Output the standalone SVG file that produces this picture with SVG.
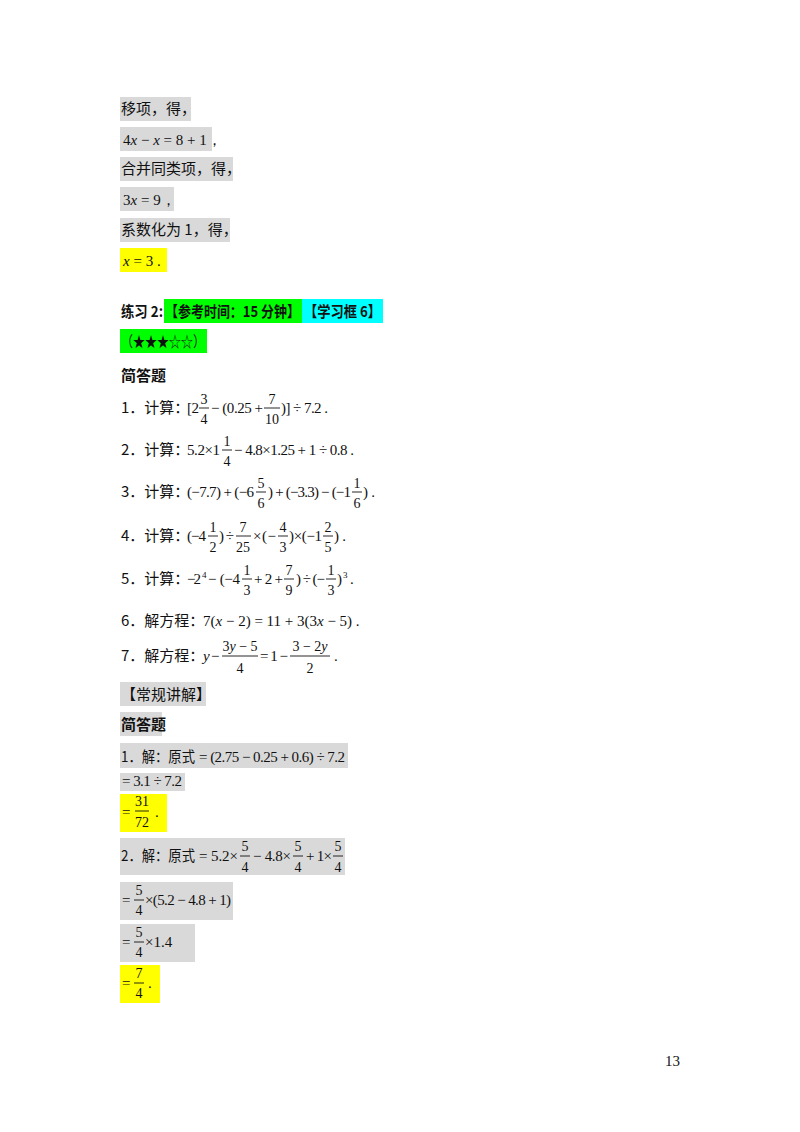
<svg xmlns="http://www.w3.org/2000/svg" width="800" height="1132" viewBox="0 0 800 1132">
<style>
.g{fill:#d9d9d9}.y{fill:#ffff00}.gr{fill:#00ff00}.c{fill:#00ffff}
text{font-family:"Liberation Serif","Noto Sans CJK SC",serif;font-size:15px;fill:#111}
.z{font-family:"Noto Sans CJK SC","Noto Sans",sans-serif;font-size:15px}
.b{font-weight:bold}
.m{font-family:"Liberation Serif",serif;font-size:15px}
.f{text-anchor:middle;font-size:14px}
.s{font-size:9px}
.i{font-style:italic}
line{stroke:#111;stroke-width:0.9}
</style>
<rect width="800" height="1132" fill="#fff"/>
<g id="top">
<rect class="g" x="120" y="97" width="71" height="24"/><text class="z" x="121" y="114">移项，得，</text>
<rect class="g" x="120" y="127" width="92" height="24"/><text class="m" x="123" y="145">4<tspan class="i">x</tspan> − <tspan class="i">x</tspan> = 8 + 1，</text>
<rect class="g" x="120" y="157" width="113" height="24"/><text class="z" x="121" y="174">合并同类项，得，</text>
<rect class="g" x="120" y="187" width="54" height="24"/><text class="m" x="123" y="205">3<tspan class="i">x</tspan> = 9，</text>
<rect class="g" x="120" y="218" width="110" height="24"/><text class="z" x="121" y="235">系数化为 1，得，</text>
<rect class="y" x="120" y="248" width="47" height="24"/><text class="m" x="123" y="266"><tspan class="i">x</tspan> = 3 .</text>
</g>
<g id="header">
<rect class="gr" x="164" y="299" width="138" height="24"/><rect class="c" x="302" y="299" width="81" height="24"/>
<text class="z b" x="121" y="317" textLength="42" lengthAdjust="spacingAndGlyphs">练习 2:</text>
<text class="z b" x="165" y="317" textLength="135" lengthAdjust="spacingAndGlyphs">【参考时间：15 分钟】</text>
<text class="z b" x="304" y="317" textLength="77" lengthAdjust="spacingAndGlyphs">【学习框 6】</text>
<rect class="gr" x="120" y="329" width="87" height="24"/><text class="z" x="121" y="347" textLength="84" lengthAdjust="spacingAndGlyphs">（★★★☆☆）</text>
<text class="z b" x="121" y="381">简答题</text>
</g>
<g id="q1">
<text class="z" x="121" y="413">1．计算：</text>
<text class="m" x="187" y="413" textLength="12">[2</text>
<text class="f" x="204" y="404">3</text><line x1="199" y1="408" x2="209" y2="408"/><text class="f" x="204" y="424">4</text>
<text class="m" x="211" y="413" textLength="52" lengthAdjust="spacing">− (0.25 +</text>
<text class="f" x="272" y="404">7</text><line x1="264" y1="408" x2="280" y2="408"/><text class="f" x="272" y="424">10</text>
<text class="m" x="281" y="413" textLength="47" lengthAdjust="spacing">)] ÷ 7.2 .</text>
</g>
<g id="q2">
<text class="z" x="121" y="455">2．计算：</text>
<text class="m" x="187" y="455" textLength="33" lengthAdjust="spacing">5.2×1</text>
<text class="f" x="227" y="446">1</text><line x1="222" y1="450" x2="232" y2="450"/><text class="f" x="227" y="466">4</text>
<text class="m" x="234" y="455" textLength="120" lengthAdjust="spacing">− 4.8×1.25 + 1 ÷ 0.8 .</text>
</g>
<g id="q3">
<text class="z" x="121" y="497">3．计算：</text>
<text class="m" x="187" y="497" textLength="67" lengthAdjust="spacing">(−7.7) + (−6</text>
<text class="f" x="261" y="488">5</text><line x1="256" y1="492" x2="266" y2="492"/><text class="f" x="261" y="508">6</text>
<text class="m" x="268" y="497" textLength="83" lengthAdjust="spacing">) + (−3.3) − (−1</text>
<text class="f" x="357" y="488">1</text><line x1="352" y1="492" x2="362" y2="492"/><text class="f" x="357" y="508">6</text>
<text class="m" x="363" y="497" textLength="12" lengthAdjust="spacing">) .</text>
</g>
<g id="q4">
<text class="z" x="121" y="541">4．计算：</text>
<text class="m" x="187" y="541" textLength="19">(−4</text>
<text class="f" x="213" y="532">1</text><line x1="208" y1="536" x2="218" y2="536"/><text class="f" x="213" y="552">2</text>
<text class="m" x="219" y="541" textLength="15" lengthAdjust="spacing">) ÷</text>
<text class="f" x="243" y="532">7</text><line x1="236" y1="536" x2="251" y2="536"/><text class="f" x="243" y="552">25</text>
<text class="m" x="253" y="541" textLength="23" lengthAdjust="spacing">×(−</text>
<text class="f" x="283" y="532">4</text><line x1="278" y1="536" x2="288" y2="536"/><text class="f" x="283" y="552">3</text>
<text class="m" x="289" y="541" textLength="33" lengthAdjust="spacing">)×(−1</text>
<text class="f" x="328" y="532">2</text><line x1="323" y1="536" x2="333" y2="536"/><text class="f" x="328" y="552">5</text>
<text class="m" x="334" y="541" textLength="12" lengthAdjust="spacing">) .</text>
</g>
<g id="q5">
<text class="z" x="121" y="584">5．计算：</text>
<text class="m" x="187" y="584" textLength="14">−2</text><text class="m s" x="202" y="578">4</text>
<text class="m" x="208" y="584" textLength="32" lengthAdjust="spacing">− (−4</text>
<text class="f" x="247" y="575">1</text><line x1="242" y1="579" x2="252" y2="579"/><text class="f" x="247" y="595">3</text>
<text class="m" x="254" y="584" textLength="29" lengthAdjust="spacing">+ 2 +</text>
<text class="f" x="289" y="575">7</text><line x1="284" y1="579" x2="294" y2="579"/><text class="f" x="289" y="595">9</text>
<text class="m" x="296" y="584" textLength="29" lengthAdjust="spacing">) ÷ (−</text>
<text class="f" x="331" y="575">1</text><line x1="326" y1="579" x2="336" y2="579"/><text class="f" x="331" y="595">3</text>
<text class="m" x="337" y="584">)</text><text class="m s" x="343" y="578">3</text><text class="m" x="350" y="584">.</text>
</g>
<g id="q6">
<text class="z" x="121" y="626">6．解方程：</text>
<text class="m" x="203" y="626">7(<tspan class="i">x</tspan> − 2) = 11 + 3(3<tspan class="i">x</tspan> − 5) .</text>
</g>
<g id="q7">
<text class="z" x="121" y="661">7．解方程：</text>
<text class="m i" x="203" y="661">y</text><text class="m" x="211" y="661">−</text>
<text class="f" x="240" y="651">3<tspan class="i">y</tspan> − 5</text><line x1="222" y1="656" x2="258" y2="656"/><text class="f" x="240" y="673">4</text>
<text class="m" x="260" y="661" textLength="28" lengthAdjust="spacing">= 1 −</text>
<text class="f" x="310" y="651">3 − 2<tspan class="i">y</tspan></text><line x1="290" y1="656" x2="330" y2="656"/><text class="f" x="310" y="673">2</text>
<text class="m" x="334" y="661">.</text>
</g>
<g id="answers">
<rect class="g" x="120" y="682" width="86" height="24"/><text class="z" x="121" y="700">【常规讲解】</text>
<rect class="g" x="120" y="712" width="42" height="24"/><text class="z b" x="121" y="730">简答题</text>
<rect class="g" x="120" y="743" width="228" height="25"/>
<text class="z" x="121" y="762" textLength="74" lengthAdjust="spacingAndGlyphs">1．解：原式</text><text class="m" x="199" y="762" textLength="146" lengthAdjust="spacing">= (2.75 − 0.25 + 0.6) ÷ 7.2</text>
<rect class="g" x="120" y="773" width="65" height="18"/><text class="m" x="122" y="786" textLength="60" lengthAdjust="spacing">= 3.1 ÷ 7.2</text>
<rect class="y" x="120" y="794" width="47" height="38"/><text class="m" x="122" y="817">=</text>
<text class="f" x="142" y="806">31</text><line x1="135" y1="811" x2="149" y2="811"/><text class="f" x="142" y="827">72</text><text class="m" x="155" y="817">.</text>
<rect class="g" x="120" y="838" width="225" height="37"/>
<text class="z" x="121" y="861" textLength="74" lengthAdjust="spacingAndGlyphs">2．解：原式</text><text class="m" x="199" y="861" textLength="39" lengthAdjust="spacing">= 5.2×</text>
<text class="f" x="245" y="851">5</text><line x1="240" y1="856" x2="250" y2="856"/><text class="f" x="245" y="872">4</text>
<text class="m" x="253" y="861" textLength="38" lengthAdjust="spacing">− 4.8×</text>
<text class="f" x="298" y="851">5</text><line x1="293" y1="856" x2="303" y2="856"/><text class="f" x="298" y="872">4</text>
<text class="m" x="306" y="861" textLength="26" lengthAdjust="spacing">+ 1×</text>
<text class="f" x="338" y="851">5</text><line x1="333" y1="856" x2="343" y2="856"/><text class="f" x="338" y="872">4</text>
<rect class="g" x="120" y="882" width="113" height="38"/><text class="m" x="122" y="905">=</text>
<text class="f" x="139" y="895">5</text><line x1="134" y1="900" x2="144" y2="900"/><text class="f" x="139" y="915">4</text>
<text class="m" x="145" y="905" textLength="86" lengthAdjust="spacing">×(5.2 − 4.8 + 1)</text>
<rect class="g" x="120" y="924" width="75" height="38"/><text class="m" x="122" y="947">=</text>
<text class="f" x="139" y="937">5</text><line x1="134" y1="942" x2="144" y2="942"/><text class="f" x="139" y="957">4</text>
<text class="m" x="145" y="947">×1.4</text>
<rect class="y" x="120" y="965" width="40" height="38"/><text class="m" x="122" y="988">=</text>
<text class="f" x="139" y="978">7</text><line x1="134" y1="983" x2="144" y2="983"/><text class="f" x="139" y="998">4</text>
<text class="m" x="148" y="988">.</text>
</g>
<text class="m" x="665" y="1066" font-size="13">13</text>
</svg>
